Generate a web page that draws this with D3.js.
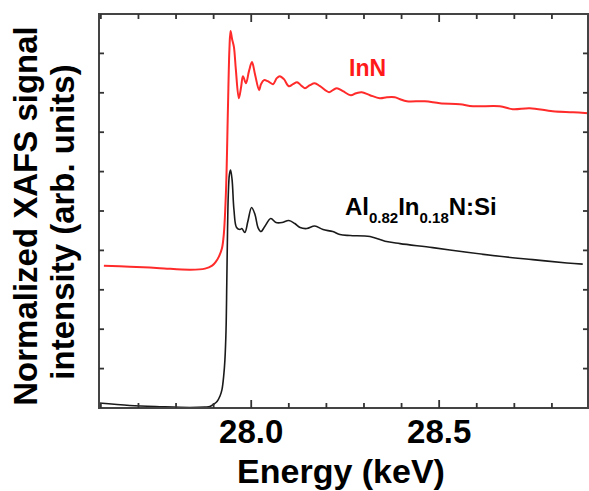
<!DOCTYPE html>
<html><head><meta charset="utf-8">
<script src="https://cdn.jsdelivr.net/npm/d3@7"></script>
<style>body{margin:0;background:#fff}svg{display:block}text{font-family:"Liberation Sans",Arial,sans-serif;font-weight:bold}</style>
</head><body><svg id="c" width="589" height="491"></svg>
<script>
const innE = [27.608,27.677,27.757,27.837,27.877,27.896,27.906,27.914,27.922,27.927,27.933,27.938,27.942,27.945,27.949,27.954,27.959,27.967,27.973,27.978,27.986,27.994,28.002,28.010,28.021,28.026,28.034,28.044,28.058,28.068,28.076,28.087,28.100,28.111,28.122,28.132,28.143,28.156,28.169,28.183,28.207,28.217,28.228,28.244,28.265,28.279,28.294,28.316,28.342,28.361,28.382,28.396,28.414,28.462,28.502,28.555,28.590,28.661,28.696,28.741,28.802,28.856,28.896];
const innI = [3.613,3.588,3.550,3.511,3.537,3.613,3.715,3.842,4.046,4.402,5.547,7.583,9.109,9.567,9.364,9.160,8.601,7.863,8.142,8.422,8.244,8.550,8.779,8.473,8.066,8.219,8.321,8.295,8.219,8.372,8.422,8.346,8.168,8.219,8.270,8.193,8.117,8.193,8.244,8.168,8.015,8.066,8.117,8.041,7.939,7.990,8.015,7.939,7.863,7.888,7.888,7.837,7.786,7.786,7.735,7.710,7.659,7.659,7.583,7.608,7.532,7.506,7.481];
const alE = [27.595,27.677,27.757,27.837,27.877,27.890,27.901,27.909,27.917,27.922,27.927,27.930,27.933,27.935,27.937,27.939,27.942,27.945,27.949,27.954,27.961,27.970,27.975,27.983,27.991,28.001,28.010,28.018,28.026,28.036,28.052,28.066,28.082,28.100,28.116,28.130,28.148,28.169,28.191,28.217,28.236,28.263,28.316,28.356,28.396,28.483,28.574,28.661,28.749,28.840,28.882];
const alI = [0.127,0.064,0.033,0.013,0.025,0.038,0.102,0.165,0.305,0.458,0.840,1.221,1.985,3.181,4.529,5.420,5.929,6.038,5.802,5.038,4.580,4.529,4.555,4.453,4.733,5.089,4.911,4.580,4.478,4.606,4.809,4.707,4.707,4.758,4.682,4.580,4.555,4.618,4.529,4.478,4.402,4.377,4.351,4.232,4.173,4.071,3.952,3.850,3.766,3.682,3.651];
const xMajor = [28.0, 28.5];
const xMinor = [27.6,27.7,27.8,27.9,28.1,28.2,28.3,28.4,28.6,28.7,28.8];
const yTicks = [1,2,3,4,5,6,7,8,9];
const xTickLabels = ["28.0","28.5"];

const svg = d3.select("#c");
const L=99, R=588, T=14, B=408;
const x = d3.scaleLinear().domain([27.595, 28.896]).range([L, R]);
const y = d3.scaleLinear().domain([0, 10]).range([B, T]);

const line = d3.line().x(d=>x(d[0])).y(d=>y(d[1])).curve(d3.curveCatmullRom.alpha(0.5));
svg.append("path").datum(alE.map((e,i)=>[e,alI[i]])).attr("d",line)
  .attr("fill","none").attr("stroke","#1a1a1a").attr("stroke-width",1.6);
svg.append("path").datum(innE.map((e,i)=>[e,innI[i]])).attr("d",line)
  .attr("fill","none").attr("stroke","#ff2a2a").attr("stroke-width",2);

// frame
svg.append("rect").attr("x",L).attr("y",T).attr("width",R-L).attr("height",B-T)
  .attr("fill","none").attr("stroke","#444").attr("stroke-width",2);

const tk = svg.append("g").attr("stroke","#333").attr("stroke-width",1.8);
xMajor.forEach(v=>{
  tk.append("line").attr("x1",x(v)).attr("x2",x(v)).attr("y1",B).attr("y2",B-8);
  tk.append("line").attr("x1",x(v)).attr("x2",x(v)).attr("y1",T).attr("y2",T+8);
});
xMinor.forEach(v=>{
  tk.append("line").attr("x1",x(v)).attr("x2",x(v)).attr("y1",B).attr("y2",B-5);
  tk.append("line").attr("x1",x(v)).attr("x2",x(v)).attr("y1",T).attr("y2",T+5);
});
yTicks.forEach(v=>{
  tk.append("line").attr("x1",L).attr("x2",L+5).attr("y1",y(v)).attr("y2",y(v));
  tk.append("line").attr("x1",R).attr("x2",R-5).attr("y1",y(v)).attr("y2",y(v));
});

xMajor.forEach((v,i)=>{
  svg.append("text").attr("x",x(v)).attr("y",443).attr("text-anchor","middle")
    .attr("font-size",33).attr("fill","#000").text(xTickLabels[i]);
});
svg.append("text").attr("x",341).attr("y",483).attr("text-anchor","middle")
  .attr("font-size",34).attr("fill","#000").text("Energy (keV)");

svg.append("text").attr("transform","translate(37,216) rotate(-90)").attr("text-anchor","middle")
  .attr("font-size",33).attr("fill","#000").text("Normalized XAFS signal");
svg.append("text").attr("transform","translate(74,222) rotate(-90)").attr("text-anchor","middle")
  .attr("font-size",33).attr("fill","#000").text("intensity (arb. units)");

svg.append("text").attr("x",349).attr("y",76).attr("font-size",23).attr("fill","#ff1a1a").text("InN");

const t = svg.append("text").attr("x",345).attr("y",215).attr("font-size",24).attr("fill","#000");
t.append("tspan").text("Al");
t.append("tspan").attr("font-size",15).attr("dy",8).text("0.82");
t.append("tspan").attr("dy",-8).text("In");
t.append("tspan").attr("font-size",15).attr("dy",8).text("0.18");
t.append("tspan").attr("dy",-8).text("N:Si");
</script></body></html>
